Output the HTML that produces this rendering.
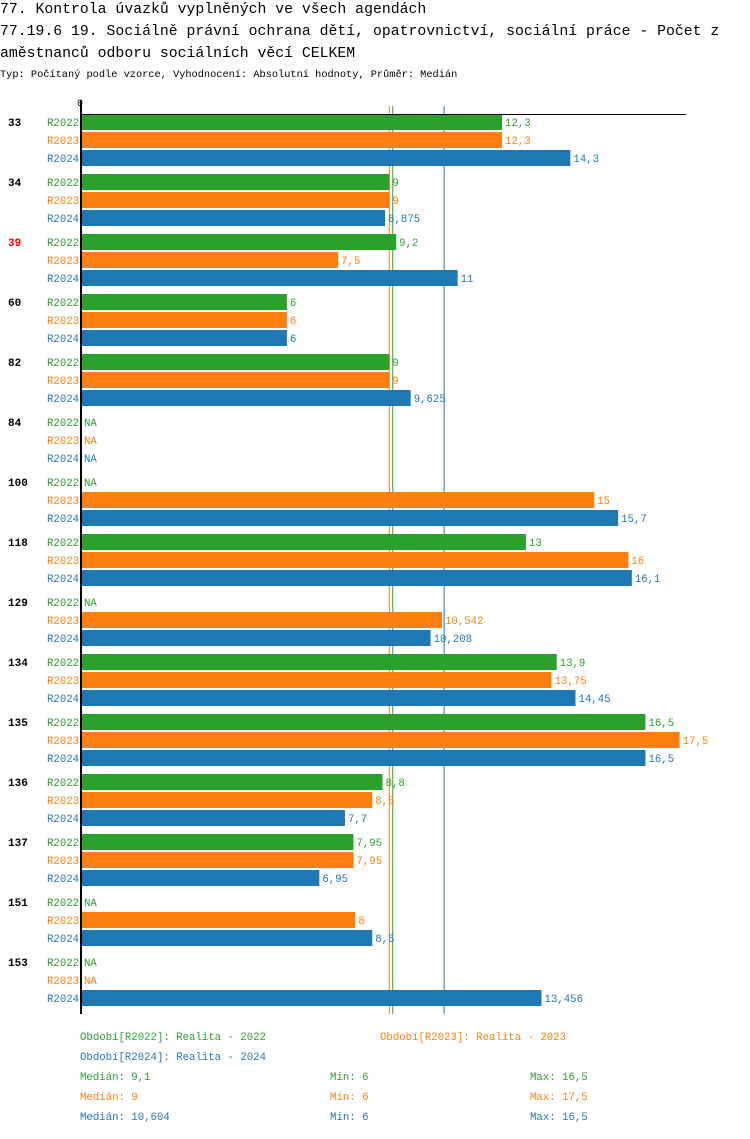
<!DOCTYPE html>
<html><head><meta charset="utf-8"><style>
body{margin:0;background:#fff;width:750px;height:1134px;overflow:hidden;font-family:"Liberation Mono",monospace}
svg text{font-family:"Liberation Mono",monospace}
</style></head><body>
<svg id="chart" width="750" height="1134" xmlns="http://www.w3.org/2000/svg">
<text x="0" y="13" font-size="14.8" fill="#000">77. Kontrola úvazků vyplněných ve všech agendách</text>
<text x="0" y="35" font-size="14.8" fill="#000">77.19.6 19. Sociálně právní ochrana dětí, opatrovnictví, sociální práce - Počet z</text>
<text x="0" y="57" font-size="14.8" fill="#000">aměstnanců odboru sociálních věcí CELKEM</text>
<text x="0" y="77" font-size="10.3" fill="#000">Typ: Počítaný podle vzorce, Vyhodnocení: Absolutní hodnoty, Průměr: Medián</text>
<g id="plot"></g>
<g id="legend" font-size="10.7">
<text x="80" y="1040" fill="#2ca02c">Období[R2022]: Realita - 2022</text>
<text x="380" y="1040" fill="#ff7f0e">Období[R2023]: Realita - 2023</text>
<text x="80" y="1060" fill="#1f77b4">Období[R2024]: Realita - 2024</text>
<text x="80" y="1080" fill="#2ca02c">Medián: 9,1</text>
<text x="330" y="1080" fill="#2ca02c">Min: 6</text>
<text x="530" y="1080" fill="#2ca02c">Max: 16,5</text>
<text x="80" y="1100" fill="#ff7f0e">Medián: 9</text>
<text x="330" y="1100" fill="#ff7f0e">Min: 6</text>
<text x="530" y="1100" fill="#ff7f0e">Max: 17,5</text>
<text x="80" y="1120" fill="#1f77b4">Medián: 10,604</text>
<text x="330" y="1120" fill="#1f77b4">Min: 6</text>
<text x="530" y="1120" fill="#1f77b4">Max: 16,5</text>
</g>
</svg>
<script>
const categories=["33","34","39","60","82","84","100","118","129","134","135","136","137","151","153"];
const highlighted=["39"];
const seriesNames=["R2022","R2023","R2024"];
const r2022=[12.3,9,9.2,6,9,null,null,13,null,13.9,16.5,8.8,7.95,null,null];
const r2023=[12.3,9,7.5,6,9,null,15,16,10.542,13.75,17.5,8.5,7.95,8,null];
const r2024=[14.3,8.875,11,6,9.625,null,15.7,16.1,10.208,14.45,16.5,7.7,6.95,8.5,13.456];
const medians=[9.1,9,10.604];
const colors=["#2ca02c","#ff7f0e","#1f77b4"];
const NS="http://www.w3.org/2000/svg";
const x0=82,scale=34.15,top0=114,groupH=60,rowH=18,barH=16;
const xs=v=>x0+v*scale;
const plot=document.getElementById('plot');
function mk(t,a,txt){const e=document.createElementNS(NS,t);for(const k in a)e.setAttribute(k,a[k]);if(txt!=null)e.textContent=txt;plot.appendChild(e);return e;}
const fmt=v=>String(v).replace('.',',');
const all=[r2022,r2023,r2024];
medians.forEach((m,j)=>{
  const l=mk('line',{x1:xs(m),x2:xs(m),y1:106,y2:1014,stroke:colors[j],'stroke-width':1});
  
  
});
categories.forEach((c,i)=>{
  const gy=top0+i*groupH;
  const lab=mk('text',{x:8,y:gy+12,'font-size':11,'font-weight':'bold',fill:highlighted.includes(c)?'#ff0000':'#000'},c);
  
  
  all.forEach((s,j)=>{
    const y=gy+j*rowH;
    const sl=mk('text',{x:47,y:y+12,'font-size':10.7,fill:colors[j]},seriesNames[j]);
    
    
    const v=s[i];
    if(v==null){
      const na=mk('text',{x:84,y:y+12,'font-size':10.7,fill:colors[j]},'NA');
      
      
    }else{
      const r=mk('rect',{x:x0,y:y,width:xs(v)-x0,height:barH,fill:colors[j]});
      
      
      const t=mk('text',{x:xs(v)+3,y:y+12,'font-size':10.7,fill:colors[j]},fmt(v));
      
      
    }
  });
});
const ax=mk('line',{x1:81,x2:81,y1:100,y2:1014,stroke:'#000','stroke-width':2});


const tx=mk('line',{x1:80,x2:686,y1:114.5,y2:114.5,stroke:'#000','stroke-width':1});


const zt=mk('text',{x:77,y:106,'font-size':10,fill:'#000'},'0');


</script>
</body></html>
